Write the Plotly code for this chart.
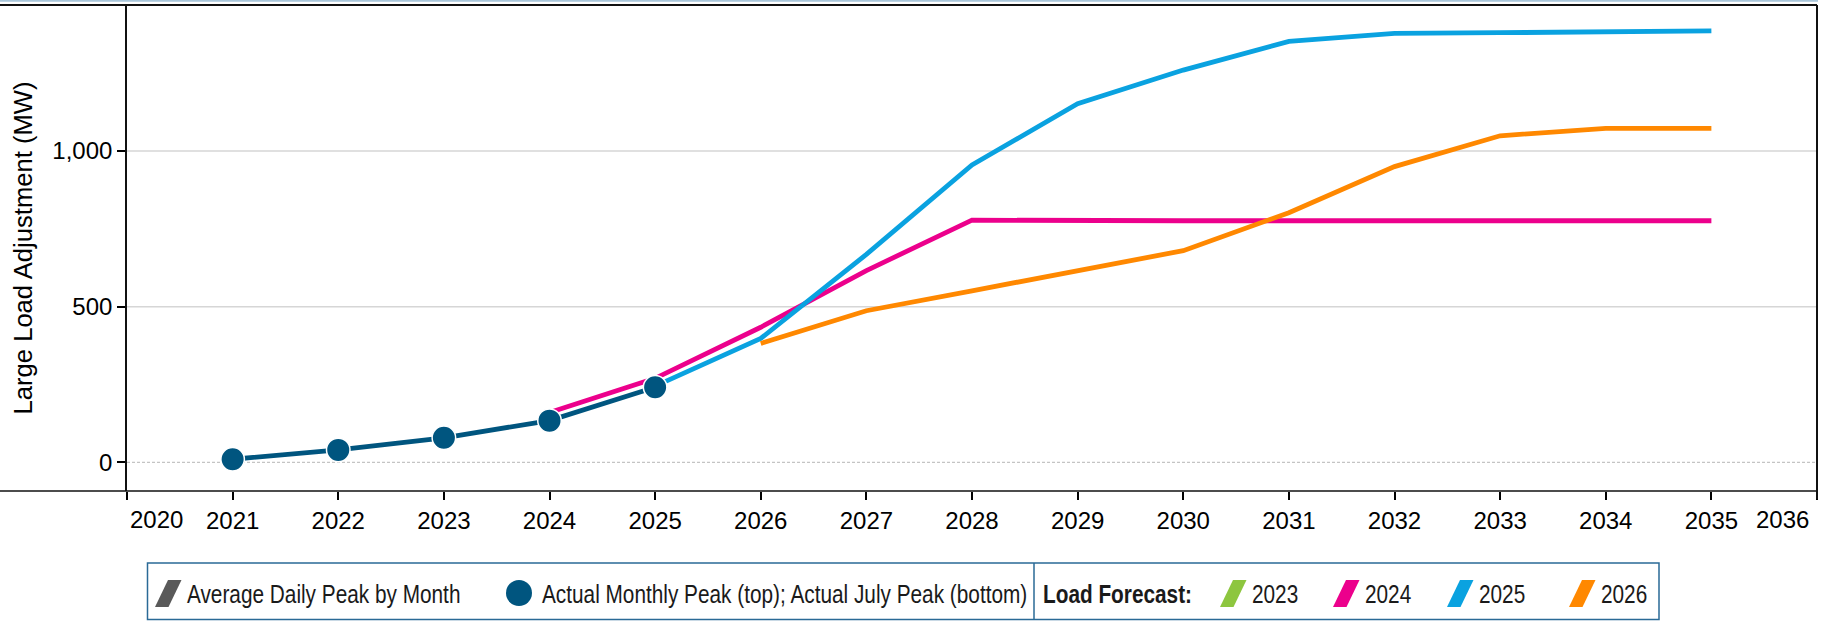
import plotly.graph_objects as go

# ---------------- data ----------------
actual_years = [2021, 2022, 2023, 2024, 2025]
actual_values = [10, 40, 79, 134, 241]

f2024_years = [2024, 2025, 2026, 2027, 2028, 2029, 2030, 2031, 2032, 2033, 2034, 2035]
f2024_values = [160, 270, 434, 616, 778, 776, 776, 776, 776, 776, 776, 776]

f2025_years = [2025, 2026, 2027, 2028, 2029, 2030, 2031, 2032, 2033, 2034, 2035]
f2025_values = [245, 398, 668, 955, 1152, 1260, 1352, 1378, 1380, 1382, 1386]

f2026_years = [2026, 2027, 2028, 2029, 2030, 2031, 2032, 2033, 2034, 2035]
f2026_values = [382, 487, 551, 616, 680, 802, 950, 1049, 1073, 1073]

x_ticks = list(range(2020, 2037))
y_ticks = [0, 500, 1000]
y_tick_labels = ["0", "500", "1,000"]

forecast_labels = ["2023", "2024", "2025", "2026"]
forecast_colors = ["#8dc63f", "#ec008c", "#0aa2e0", "#ff8800"]
avg_label = "Average Daily Peak by Month"
actual_label = "Actual Monthly Peak (top); Actual July Peak (bottom)"
forecast_title = "Load Forecast:"
y_title = "Large Load Adjustment (MW)"

# ---------------- style / layout ----------------
W, H = 1833, 621
L, R, T, B = 127, 1817, 5, 491
DARK = "#00557f"
GREY_ICON = "#595959"
FONT = "Liberation Sans, Arial, sans-serif"
LEG_FONT = "Liberation Sans Narrow, Arial Narrow, Liberation Sans, sans-serif"
LEG_SIZE = 20.8
LEG_TALL = 1.227  # vertical stretch to mimic a condensed face


def px(xp):
    return (xp - L) / (R - L)


def py(yp):
    return (B - yp) / (B - T)


fig = go.Figure()

series = [
    (f2024_years, f2024_values, forecast_colors[1]),
    (f2025_years, f2025_values, forecast_colors[2]),
    (f2026_years, f2026_values, forecast_colors[3]),
]
for xs, ys, c in series:
    fig.add_trace(go.Scatter(x=xs, y=ys, mode="lines",
                             line=dict(color=c, width=4.8),
                             hoverinfo="x+y", showlegend=False))

fig.add_trace(go.Scatter(x=actual_years, y=actual_values, mode="lines+markers",
                         line=dict(color=DARK, width=4.8),
                         marker=dict(size=23.5, color=DARK, line=dict(color="white", width=1.5)),
                         showlegend=False))

shapes = []
# gridlines (dashed at zero)
for v in y_ticks:
    if v == 0:
        shapes.append(dict(type="line", xref="paper", yref="y", x0=0, x1=1, y0=v, y1=v,
                           line=dict(color="#c4c4c4", width=1.2, dash="3px,2px"), layer="below"))
    else:
        shapes.append(dict(type="line", xref="paper", yref="y", x0=0, x1=1, y0=v, y1=v,
                           line=dict(color="#d6d6d6", width=1.6), layer="below"))

# frame lines
shapes.append(dict(type="line", xref="paper", yref="paper", x0=px(0), x1=px(1818), y0=py(0.8), y1=py(0.8),
                   line=dict(color="#a9c6da", width=2)))
shapes.append(dict(type="line", xref="paper", yref="paper", x0=px(0), x1=1, y0=1, y1=1,
                   line=dict(color="#111111", width=2)))
shapes.append(dict(type="line", xref="paper", yref="paper", x0=px(0), x1=1, y0=0, y1=0,
                   line=dict(color="#111111", width=1.6)))
shapes.append(dict(type="line", xref="paper", yref="paper", x0=1, x1=1, y0=py(499), y1=1,
                   line=dict(color="#111111", width=2)))

# ---------------- custom legend ----------------
box_l, box_r, box_t, box_b, divider = 147.5, 1659, 563, 619.5, 1034
LEG_C = "#2a6a96"
shapes.append(dict(type="rect", xref="paper", yref="paper", x0=px(box_l), x1=px(box_r),
                   y0=py(box_b), y1=py(box_t), line=dict(color=LEG_C, width=1.5)))
shapes.append(dict(type="line", xref="paper", yref="paper", x0=px(divider), x1=px(divider),
                   y0=py(box_b), y1=py(box_t), line=dict(color=LEG_C, width=1.5)))

icon_top, icon_bot, leg_mid = 580, 607, 593


def para(x0, color):
    p = (f"M {px(x0)},{py(icon_bot)} L {px(x0 + 13.5)},{py(icon_bot)} "
         f"L {px(x0 + 26.5)},{py(icon_top)} L {px(x0 + 13)},{py(icon_top)} Z")
    return dict(type="path", xref="paper", yref="paper", path=p,
                fillcolor=color, line=dict(width=0))


annotations = []


def leg_text(x0, text, bold=False):
    annotations.append(dict(xref="paper", yref="paper", x=px(x0), y=py(leg_mid),
                            xanchor="left", yanchor="middle", align="left", showarrow=False,
                            borderpad=0,
                            text=f"<b>{text}</b>" if bold else text,
                            font=dict(family=LEG_FONT, size=LEG_SIZE, color="#1a1a1a")))


shapes.append(para(155, GREY_ICON))
leg_text(186, avg_label)
shapes.append(dict(type="circle", xref="paper", yref="paper", x0=px(506), x1=px(532),
                   y0=py(606), y1=py(580), fillcolor=DARK, line=dict(width=0)))
leg_text(541, actual_label)
leg_text(1042, forecast_title, bold=True)
icon_x = [1220, 1333, 1447, 1569]
for ix, lab, col in zip(icon_x, forecast_labels, forecast_colors):
    shapes.append(para(ix, col))
    leg_text(ix + 31, lab)

# edge tick labels (kept inside plot width)
tick_text = ["" if v in (x_ticks[0], x_ticks[-1]) else str(v) for v in x_ticks]
annotations.append(dict(xref="paper", yref="paper", x=px(128), y=py(519), xanchor="left", yanchor="middle",
                        showarrow=False, text=str(x_ticks[0]), font=dict(family=FONT, size=24, color="black")))
annotations.append(dict(xref="paper", yref="paper", x=px(1811), y=py(519), xanchor="right", yanchor="middle",
                        showarrow=False, text=str(x_ticks[-1]), font=dict(family=FONT, size=24, color="black")))

fig.update_layout(
    width=W, height=H,
    margin=dict(l=L, r=W - R, t=T, b=H - B),
    paper_bgcolor="white", plot_bgcolor="white",
    font=dict(family=FONT, size=24, color="black"),
    showlegend=False,
    shapes=shapes,
    annotations=annotations,
    xaxis=dict(range=[2020, 2036], tickmode="array", tickvals=x_ticks, ticktext=tick_text,
               ticks="outside", ticklen=8, tickwidth=1.5, tickcolor="black",
               showgrid=False, zeroline=False, showline=False,
               tickfont=dict(size=24, family=FONT, color="black")),
    yaxis=dict(range=[-92, 1469], tickmode="array", tickvals=y_ticks, ticktext=y_tick_labels,
               ticks="outside", ticklen=8, tickwidth=1.5, tickcolor="black",
               showgrid=False, zeroline=False, showline=True, linecolor="#111111", linewidth=1.6,
               tickfont=dict(size=24, family=FONT, color="black"),
               title=dict(text=y_title, standoff=12, font=dict(size=25.6, family=FONT, color="black"))),
)

# legend text: stretch glyphs vertically to mimic the condensed face of the original
post_js = (
    "document.body.style.margin='0';document.body.style.overflow='hidden';"
    "document.querySelectorAll('.annotation-text').forEach(function(t){"
    "var fs=parseFloat(t.style.fontSize||'0');"
    "if(Math.abs(fs-%s)<0.05){" % LEG_SIZE +
    "t.style.transformBox='fill-box';t.style.transformOrigin='50%% 50%%';"
    "t.style.transform='scaleY(%s)';}});" % LEG_TALL
)

fig.write_html("out.html", config={"displayModeBar": False}, post_script=post_js)
